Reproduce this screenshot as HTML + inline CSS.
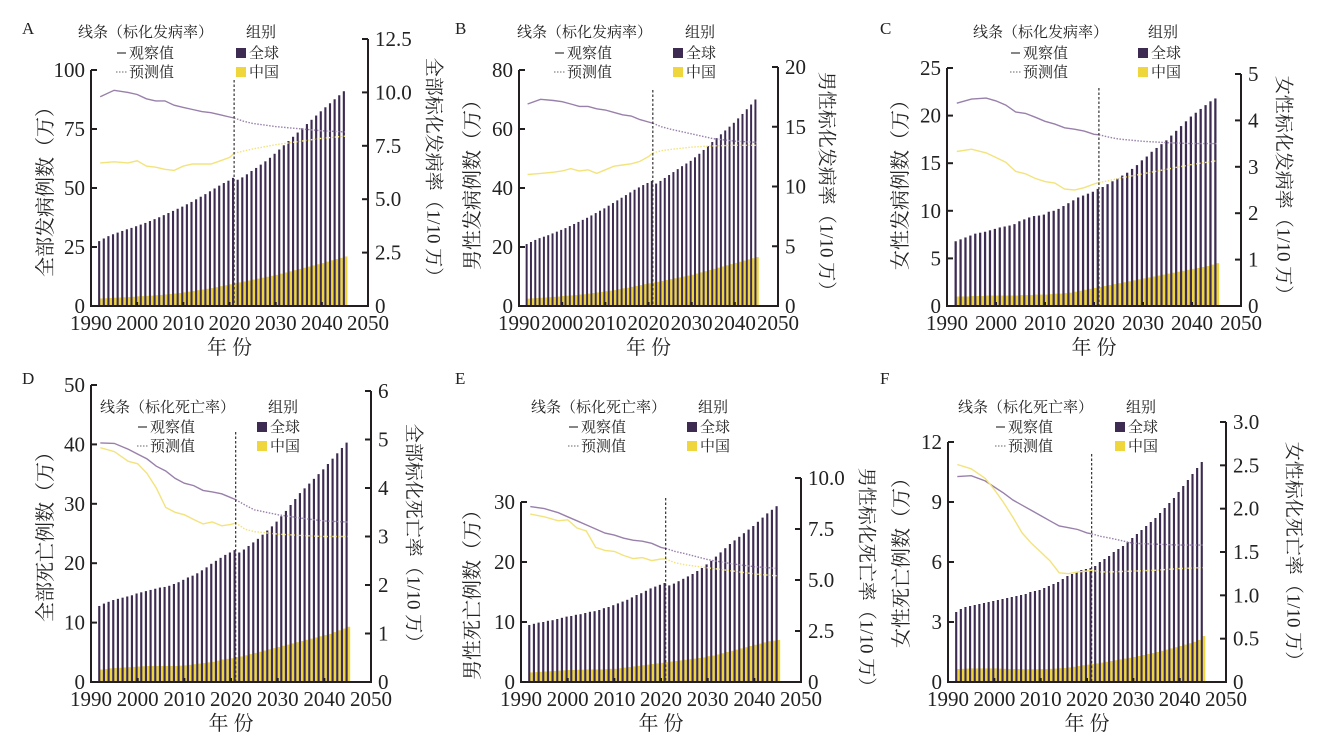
<!DOCTYPE html>
<html><head><meta charset="utf-8"><style>
html,body{margin:0;padding:0;background:#fff;}
svg{display:block;}
</style></head><body>
<svg id="chart" width="1330" height="748" viewBox="0 0 1330 748" xmlns="http://www.w3.org/2000/svg"></svg>
<script>
// ---- shared data ----
const barYears=[1992,1993,1994,1995,1996,1997,1998,1999,2000,2001,2002,2003,2004,2005,2006,2007,2008,2009,2010,2011,2012,2013,2014,2015,2016,2017,2018,2019,2020,2021,2022,2023,2024,2025,2026,2027,2028,2029,2030,2031,2032,2033,2034,2035,2036,2037,2038,2039,2040,2041,2042,2043,2044,2045];
const obsYears=[1992,1995,1998,2000,2002,2004,2006,2008,2010,2012,2014,2016,2018,2020,2021];
const predYears=[2021,2023,2025,2030,2035,2040,2045];
const xTickLabels=['1990','2000','2010','2020','2030','2040','2050'];
// ---- panel A ----
const aGlobal=[27.5,28.6,29.6,30.4,31.1,31.8,32.5,33.1,33.8,34.5,35.2,36.0,36.8,37.6,38.5,39.4,40.3,41.2,42.1,43.1,44.1,45.2,46.3,47.4,48.6,49.8,51.0,52.1,53.1,54.3,53.5,54.5,55.8,57.2,58.5,59.9,61.3,62.8,64.5,66.3,68.1,69.9,71.7,73.5,75.3,77.1,78.9,80.7,82.5,84.2,85.9,87.6,89.3,91.0];
const aChina=[3.2,3.3,3.4,3.5,3.6,3.7,3.8,3.9,4.1,4.2,4.3,4.4,4.6,4.7,4.9,5.1,5.3,5.5,5.8,6.1,6.4,6.7,7.0,7.3,7.6,8.0,8.4,8.8,9.2,9.8,10.0,10.4,10.8,11.2,11.6,12.0,12.4,12.8,13.2,13.7,14.2,14.7,15.2,15.7,16.2,16.7,17.2,17.7,18.2,18.8,19.4,19.9,20.4,21.0];
const aRateGlobalObs=[9.8,10.1,10.0,9.9,9.7,9.6,9.6,9.4,9.3,9.2,9.1,9.05,8.95,8.85,8.8];
const aRateGlobalPred=[8.8,8.65,8.55,8.4,8.3,8.2,8.15];
const aRateChinaObs=[6.7,6.75,6.7,6.8,6.55,6.5,6.4,6.35,6.55,6.65,6.65,6.65,6.8,6.95,7.15];
const aRateChinaPred=[7.15,7.25,7.35,7.55,7.7,7.85,7.95];
const aLeftTicks=[0,25,50,75,100];
const aRightTicks=['0','2.5','5.0','7.5','10.0','12.5'];
// ---- panel B ----
const bGlobal=[21.0,21.7,22.4,23.0,23.5,24.0,24.6,25.2,25.8,26.4,27.1,27.8,28.5,29.2,29.9,30.7,31.5,32.3,33.1,34.0,34.9,35.8,36.7,37.6,38.5,39.4,40.2,41.0,41.7,42.4,41.5,42.4,43.4,44.4,45.4,46.4,47.4,48.3,49.2,50.4,51.6,52.9,54.2,55.6,56.9,58.2,59.5,60.8,62.1,63.6,65.1,66.7,68.3,70.0];
const bChina=[2.5,2.6,2.7,2.8,2.9,3.0,3.1,3.2,3.4,3.5,3.6,3.7,3.9,4.0,4.2,4.4,4.6,4.8,5.0,5.2,5.4,5.7,6.0,6.2,6.5,6.8,7.1,7.4,7.7,8.0,8.2,8.5,8.8,9.1,9.4,9.7,10.0,10.3,10.6,11.0,11.4,11.8,12.2,12.6,13.0,13.4,13.8,14.2,14.6,15.0,15.4,15.8,16.2,16.6];
const bRateGlobalObs=[16.9,17.3,17.2,17.1,16.9,16.7,16.7,16.5,16.4,16.2,16.0,15.9,15.6,15.4,15.3];
const bRateGlobalPred=[15.3,15.0,14.8,14.4,14.0,13.8,13.7];
const bRateChinaObs=[11.0,11.1,11.2,11.3,11.5,11.3,11.4,11.1,11.4,11.7,11.8,11.9,12.1,12.5,12.8];
const bRateChinaPred=[12.8,13.0,13.1,13.3,13.4,13.45,13.45];
const bLeftTicks=[0,20,40,60,80];
const bRightTicks=['0','5','10','15','20'];
// ---- panel C ----
const cGlobal=[6.8,7.0,7.2,7.4,7.6,7.7,7.8,7.95,8.1,8.25,8.35,8.45,8.6,8.9,9.1,9.3,9.45,9.5,9.6,9.9,10.0,10.2,10.5,10.8,11.1,11.4,11.6,11.8,12.0,12.3,12.5,12.8,13.1,13.4,13.7,14.0,14.4,14.8,15.3,15.7,16.2,16.6,17.0,17.4,17.9,18.4,18.9,19.4,19.9,20.3,20.7,21.1,21.5,21.8];
const cChina=[1.0,1.0,1.0,1.05,1.05,1.05,1.1,1.1,1.1,1.1,1.1,1.1,1.1,1.15,1.15,1.15,1.2,1.2,1.2,1.25,1.3,1.3,1.35,1.4,1.5,1.6,1.7,1.8,1.9,2.0,2.1,2.2,2.3,2.4,2.5,2.6,2.7,2.8,2.9,3.0,3.1,3.2,3.3,3.4,3.5,3.6,3.7,3.8,3.9,4.0,4.1,4.2,4.35,4.5];
const cRateGlobalObs=[4.37,4.46,4.48,4.42,4.33,4.18,4.15,4.07,3.98,3.92,3.84,3.81,3.77,3.7,3.69];
const cRateGlobalPred=[3.69,3.64,3.6,3.55,3.52,3.5,3.5];
const cRateChinaObs=[3.33,3.38,3.3,3.2,3.1,2.9,2.85,2.75,2.68,2.65,2.52,2.5,2.55,2.63,2.66];
const cRateChinaPred=[2.66,2.7,2.75,2.85,2.95,3.05,3.13];
const cLeftTicks=[0,5,10,15,20,25];
const cRightTicks=['0','1','2','3','4','5'];
// ---- panel D ----
const dGlobal=[12.8,13.2,13.5,13.8,14.0,14.2,14.4,14.6,14.9,15.1,15.3,15.5,15.7,15.9,16.0,16.2,16.5,16.8,17.2,17.6,17.9,18.3,18.8,19.3,19.9,20.4,20.9,21.4,21.8,22.2,21.8,22.3,22.9,23.5,24.1,24.8,25.5,26.2,27.0,27.9,28.8,29.8,30.8,31.8,32.6,33.4,34.2,35.0,35.8,36.7,37.6,38.5,39.4,40.3];
const dChina=[2.1,2.2,2.3,2.35,2.4,2.45,2.5,2.55,2.6,2.65,2.7,2.7,2.7,2.7,2.7,2.7,2.7,2.75,2.8,2.9,3.0,3.1,3.2,3.3,3.4,3.6,3.8,3.9,4.0,4.2,4.3,4.5,4.7,4.9,5.1,5.3,5.5,5.7,5.9,6.1,6.3,6.5,6.7,6.9,7.1,7.3,7.5,7.7,7.9,8.1,8.4,8.7,9.0,9.3];
const dRateGlobalObs=[4.93,4.92,4.8,4.7,4.6,4.45,4.35,4.2,4.1,4.05,3.95,3.92,3.88,3.8,3.76];
const dRateGlobalPred=[3.76,3.65,3.55,3.45,3.38,3.32,3.3];
const dRateChinaObs=[4.83,4.75,4.55,4.5,4.3,4.0,3.6,3.5,3.45,3.35,3.26,3.3,3.22,3.25,3.28];
const dRateChinaPred=[3.28,3.15,3.1,3.05,3.02,3.0,3.0];
const dLeftTicks=[0,10,20,30,40,50];
const dRightTicks=['0','1','2','3','4','5','6'];
// ---- panel E ----
const eGlobal=[9.5,9.7,9.9,10.0,10.2,10.3,10.5,10.7,10.9,11.0,11.2,11.3,11.5,11.7,11.8,12.0,12.3,12.5,12.8,13.1,13.4,13.7,14.1,14.5,14.8,15.2,15.6,15.9,16.2,16.5,16.1,16.4,16.8,17.2,17.6,18.0,18.5,19.0,19.6,20.2,20.9,21.6,22.3,23.0,23.6,24.2,24.8,25.4,26.0,26.7,27.4,28.1,28.7,29.3];
const eChina=[1.6,1.65,1.7,1.75,1.8,1.85,1.9,1.95,2.0,2.0,2.05,2.05,2.1,2.1,2.1,2.1,2.15,2.2,2.2,2.3,2.4,2.5,2.6,2.7,2.8,2.9,3.0,3.1,3.2,3.3,3.4,3.5,3.6,3.7,3.8,3.9,4.0,4.1,4.3,4.4,4.6,4.8,5.0,5.2,5.4,5.6,5.8,6.0,6.2,6.4,6.6,6.8,6.9,7.0];
const eRateGlobalObs=[8.6,8.5,8.3,8.1,7.9,7.7,7.5,7.3,7.2,7.05,6.95,6.9,6.8,6.6,6.55];
const eRateGlobalPred=[6.55,6.4,6.3,6.0,5.8,5.65,5.57];
const eRateChinaObs=[8.23,8.1,7.9,7.95,7.55,7.4,6.6,6.45,6.4,6.2,6.05,6.1,5.95,6.03,6.03];
const eRateChinaPred=[6.03,5.85,5.75,5.6,5.45,5.3,5.2];
const eLeftTicks=[0,10,20,30];
const eRightTicks=['0','2.5','5.0','7.5','10.0'];
// ---- panel F ----
const fGlobal=[3.5,3.65,3.75,3.8,3.85,3.9,3.95,4.0,4.05,4.1,4.15,4.2,4.25,4.3,4.35,4.4,4.5,4.55,4.6,4.7,4.8,4.9,5.0,5.15,5.3,5.4,5.5,5.6,5.65,5.7,5.8,6.0,6.15,6.3,6.5,6.65,6.8,7.0,7.2,7.4,7.6,7.8,8.0,8.2,8.45,8.7,8.95,9.2,9.5,9.8,10.1,10.4,10.7,11.0];
const fChina=[0.65,0.66,0.67,0.68,0.68,0.68,0.68,0.68,0.68,0.67,0.66,0.65,0.65,0.65,0.64,0.64,0.64,0.64,0.65,0.65,0.66,0.67,0.69,0.7,0.73,0.76,0.8,0.84,0.87,0.9,0.93,0.97,1.01,1.05,1.09,1.13,1.17,1.21,1.25,1.3,1.35,1.4,1.45,1.5,1.56,1.62,1.68,1.74,1.8,1.87,1.94,2.01,2.1,2.3];
const fRateGlobalObs=[2.37,2.38,2.32,2.25,2.18,2.1,2.04,1.98,1.92,1.86,1.8,1.78,1.76,1.72,1.71];
const fRateGlobalPred=[1.71,1.68,1.66,1.6,1.59,1.58,1.58];
const fRateChinaObs=[2.51,2.46,2.35,2.22,2.07,1.9,1.72,1.6,1.5,1.4,1.26,1.25,1.27,1.28,1.29];
const fRateChinaPred=[1.29,1.27,1.27,1.28,1.29,1.31,1.32];
const fLeftTicks=[0,3,6,9,12];
const fRightTicks=['0','0.5','1.0','1.5','2.0','2.5','3.0'];

const panels=[
 {id:'a',letter:'A',lx:22,ly:34,x0:91,x1:368,yb:306,lt:70,lmax:100,rt:39,rmax:12.5,dashTop:80,
  lg:[78,32,246,117,236],rowY:[53,72],rateName:'标化发病率',ltitle:'全部发病例数（万）',rtitle:'全部标化发病率（1/10 万）',ltx:46,lty:187,rtx:433,rty:172,xty:354,
  g:aGlobal,c:aChina,go:aRateGlobalObs,gp:aRateGlobalPred,co:aRateChinaObs,cp:aRateChinaPred,lticks:aLeftTicks,rticks:aRightTicks},
 {id:'b',letter:'B',lx:455,ly:34,x0:519,x1:778,yb:306,lt:70,lmax:80,rt:67,rmax:20,dashTop:90,
  lg:[517,32,685,555,673],rowY:[53,72],rateName:'标化发病率',ltitle:'男性发病例数（万）',rtitle:'男性标化发病率（1/10 万）',ltx:473,lty:180,rtx:826,rty:186,xty:354,
  g:bGlobal,c:bChina,go:bRateGlobalObs,gp:bRateGlobalPred,co:bRateChinaObs,cp:bRateChinaPred,lticks:bLeftTicks,rticks:bRightTicks},
 {id:'c',letter:'C',lx:880,ly:34,x0:947,x1:1241,yb:306,lt:68,lmax:25,rt:74,rmax:5,dashTop:88,
  lg:[973,32,1148,1011,1138],rowY:[53,72],rateName:'标化发病率',ltitle:'女性发病例数（万）',rtitle:'女性标化发病率（1/10 万）',ltx:901,lty:180,rtx:1283,rty:190,xty:354,
  g:cGlobal,c:cChina,go:cRateGlobalObs,gp:cRateGlobalPred,co:cRateChinaObs,cp:cRateChinaPred,lticks:cLeftTicks,rticks:cRightTicks},
 {id:'d',letter:'D',lx:22,ly:384,x0:91,x1:371,yb:682,lt:385,lmax:50,rt:391,rmax:6,dashTop:432,
  lg:[100,407,268,138,257],rowY:[427,446],rateName:'标化死亡率',ltitle:'全部死亡例数（万）',rtitle:'全部标化死亡率（1/10 万）',ltx:46,lty:532,rtx:413,rty:538,xty:730,
  g:dGlobal,c:dChina,go:dRateGlobalObs,gp:dRateGlobalPred,co:dRateChinaObs,cp:dRateChinaPred,lticks:dLeftTicks,rticks:dRightTicks},
 {id:'e',letter:'E',lx:455,ly:384,x0:521,x1:801,yb:682,lt:502,lmax:30,rt:478,rmax:10,dashTop:498,
  lg:[531,407,698,569,687],rowY:[427,446],rateName:'标化死亡率',ltitle:'男性死亡例数（万）',rtitle:'男性标化死亡率（1/10 万）',ltx:473,lty:590,rtx:866,rty:582,xty:730,
  g:eGlobal,c:eChina,go:eRateGlobalObs,gp:eRateGlobalPred,co:eRateChinaObs,cp:eRateChinaPred,lticks:eLeftTicks,rticks:eRightTicks},
 {id:'f',letter:'F',lx:880,ly:384,x0:948,x1:1226,yb:682,lt:442,lmax:12,rt:422,rmax:3,dashTop:454,
  lg:[958,407,1126,996,1115],rowY:[427,446],rateName:'标化死亡率',ltitle:'女性死亡例数（万）',rtitle:'女性标化死亡率（1/10 万）',ltx:902,lty:558,rtx:1293,rty:556,xty:730,
  g:fGlobal,c:fChina,go:fRateGlobalObs,gp:fRateGlobalPred,co:fRateChinaObs,cp:fRateChinaPred,lticks:fLeftTicks,rticks:fRightTicks}
];

const NS='http://www.w3.org/2000/svg';
const svg=document.getElementById('chart');
const SERIF='"Liberation Serif", "Noto Serif CJK SC", serif';
function mk(tag,attrs,parent){const e=document.createElementNS(NS,tag);for(const k in attrs)e.setAttribute(k,attrs[k]);(parent||svg).appendChild(e);return e;}
function txt(attrs,parent,size){const t=mk('text',attrs,parent);t.setAttribute('font-family',SERIF);t.setAttribute('font-size',size);t.setAttribute('fill','#222');return t;}
const DARK='#231f20',PUR='#3d2b52',YEL='#eed63c',LPUR='#9880ab',LYEL='#f3e37c';

panels.forEach(p=>{
  const g=mk('g',{});
  
  
  const xs=y=>p.x0+(y-1990)/60*(p.x1-p.x0);
  const yl=v=>p.yb-v/p.lmax*(p.yb-p.lt);
  const yr=v=>p.yb-v/p.rmax*(p.yb-p.rt);
  const pitch=(p.x1-p.x0)/60;
  barYears.forEach((yr_,i)=>{
    const x=xs(yr_);
    const cb=mk('rect',{x:x-0.2,y:yl(p.c[i]),width:pitch*0.58,height:p.yb-yl(p.c[i]),fill:YEL},g);
    
    
    const gb=mk('rect',{x:x-pitch*0.46,y:yl(p.g[i]),width:pitch*0.46,height:p.yb-yl(p.g[i]),fill:PUR},g);
    
    
  });
  const path=(ys,vs)=>ys.map((y,i)=>(i?'L':'M')+xs(y).toFixed(1)+','+yr(vs[i]).toFixed(1)).join('');
  [[p.go,obsYears,LPUR,'','line-global-observed'],[p.gp,predYears,LPUR,'1.5,1.5','line-global-predicted'],
   [p.co,obsYears,LYEL,'','line-china-observed'],[p.cp,predYears,LYEL,'1.5,1.5','line-china-predicted']].forEach(s=>{
    const l=mk('path',{d:path(s[1],s[0]),fill:'none',stroke:s[2],'stroke-width':1.4,'stroke-dasharray':s[3]||'none'},g);
    
    
  });
  const dl=mk('line',{x1:xs(2021),x2:xs(2021),y1:p.dashTop,y2:p.yb,stroke:'#333','stroke-width':1.2,'stroke-dasharray':'2.5,2'},g);
  
  
  const ax=mk('path',{d:`M${p.x0},${p.lt}V${p.yb}H${p.x1}V${p.rt}`,fill:'none',stroke:DARK,'stroke-width':2},g);
  
  
  p.lticks.forEach(v=>{
    mk('line',{x1:p.x0,x2:p.x0+6,y1:yl(v),y2:yl(v),stroke:DARK,'stroke-width':2},g);
    const t=txt({x:p.x0-6,y:yl(v)+7,'text-anchor':'end'},g,21);t.textContent=v;
    
    
  });
  p.rticks.forEach((s,i)=>{
    const v=i*p.rmax/(p.rticks.length-1);
    mk('line',{x1:p.x1-6,x2:p.x1,y1:yr(v),y2:yr(v),stroke:DARK,'stroke-width':2},g);
    const t=txt({x:p.x1+7,y:yr(v)+7,'text-anchor':'start'},g,21);t.textContent=s;
    
    
  });
  xTickLabels.forEach(s=>{
    const x=xs(+s);
    mk('line',{x1:x,x2:x,y1:p.yb,y2:p.yb-4,stroke:DARK,'stroke-width':2},g);
    const t=txt({x:x,y:p.yb+24,'text-anchor':'middle'},g,21);t.textContent=s;
    
    
  });
  const lt=txt({x:p.ltx,y:p.lty,'text-anchor':'middle','dominant-baseline':'central',transform:`rotate(-90 ${p.ltx} ${p.lty})`},g,20);lt.textContent=p.ltitle;
  
  
  const rt=txt({x:p.rtx,y:p.rty,'text-anchor':'middle','dominant-baseline':'central',transform:`rotate(90 ${p.rtx} ${p.rty})`},g,19);rt.textContent=p.rtitle;
  
  
  const xt=txt({x:(p.x0+p.x1)/2,y:p.xty,'text-anchor':'middle'},g,20);xt.textContent='年 份';
  
  
  const lt2=txt({x:p.lx,y:p.ly},g,17);lt2.textContent=p.letter;
  
  
  const lg=mk('g',{},g);
  
  
  const [lx,ly,gx,dx,sx]=p.lg;
  const tx=(x,y,s,n)=>{const t=txt({x:x,y:y+5},lg,15);t.textContent=s;return t;};
  tx(lx,ly,'线条（'+p.rateName+'）','legend-lines-title');
  tx(gx,ly,'组别','legend-group-title');
  mk('line',{x1:dx,x2:dx+9,y1:p.rowY[0],y2:p.rowY[0],stroke:'#444','stroke-width':1.3},lg);
  tx(dx+12,p.rowY[0],'观察值','legend-observed');
  mk('line',{x1:dx-1,x2:dx+10,y1:p.rowY[1],y2:p.rowY[1],stroke:'#666','stroke-width':1,'stroke-dasharray':'1.5,1.5'},lg);
  tx(dx+12,p.rowY[1],'预测值','legend-predicted');
  mk('rect',{x:sx,y:p.rowY[0]-5,width:10,height:10,fill:PUR},lg);
  tx(sx+13,p.rowY[0],'全球','legend-global');
  mk('rect',{x:sx,y:p.rowY[1]-5,width:10,height:10,fill:YEL},lg);
  tx(sx+13,p.rowY[1],'中国','legend-china');
});
</script>
</body></html>
